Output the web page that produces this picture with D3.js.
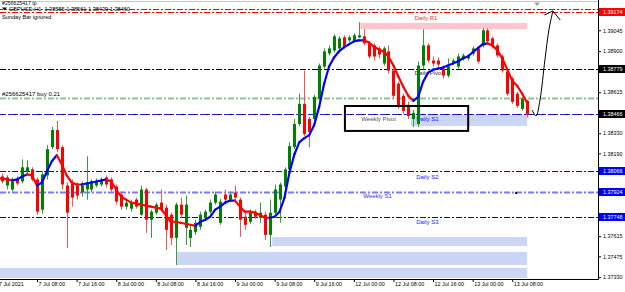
<!DOCTYPE html>
<html>
<head>
<meta charset="utf-8">
<script src="https://cdn.jsdelivr.net/npm/d3@7/dist/d3.min.js"></script>
<style>
  body { margin: 0; background: #fff; }
  svg { display: block; font-family: "Liberation Sans", Arial, sans-serif; }
</style>
</head>
<body>
<svg id="chart" width="625" height="292"></svg>
<script>
// GBPUSD H1, one entry per hourly bar, 7 Jul 00:00 -> 13 Jul 11:00
const symbol = 'GBPUSD,H1';

const open = [
  1.38023, 1.38030, 1.37967, 1.37939, 1.38009, 1.37995, 1.38065, 1.38079, 1.38009, 1.37799,
  1.38037, 1.38233, 1.38352, 1.38233, 1.37967, 1.37981, 1.37967, 1.37918, 1.37939, 1.37939,
  1.37967, 1.37974, 1.38023, 1.38009, 1.37960, 1.37904, 1.37820, 1.37806, 1.37869, 1.37764,
  1.37939, 1.37729, 1.37778, 1.37848, 1.37813, 1.37764, 1.37603, 1.37834, 1.37673, 1.37603,
  1.37645, 1.37680, 1.37743, 1.37785, 1.37848, 1.37708, 1.37904, 1.37869, 1.37918, 1.37869,
  1.37750, 1.37715, 1.37785, 1.37743, 1.37764, 1.37624, 1.37778, 1.37869, 1.37960, 1.38079,
  1.38233, 1.38394, 1.38534, 1.38429, 1.38429, 1.38569, 1.38793, 1.38884, 1.38905, 1.38919,
  1.38996, 1.38975, 1.38975, 1.38996, 1.39003, 1.38954, 1.38940, 1.38919, 1.38814, 1.38898,
  1.38765, 1.38674, 1.38590, 1.38527, 1.38429, 1.38394, 1.38800, 1.38940, 1.38835, 1.38835,
  1.38779, 1.38730, 1.38821, 1.38793, 1.38849, 1.38849, 1.38884, 1.38919, 1.38940, 1.39045,
  1.38989, 1.38940, 1.38863, 1.38758, 1.38709, 1.38604, 1.38499, 1.38555
];
const high = [
  1.38044, 1.38051, 1.38037, 1.38023, 1.38030, 1.38149, 1.38142, 1.38093, 1.38023, 1.38065,
  1.38247, 1.38373, 1.38415, 1.38247, 1.37988, 1.38009, 1.37988, 1.37995, 1.38170, 1.38009,
  1.38016, 1.38023, 1.38037, 1.38023, 1.37974, 1.37925, 1.37862, 1.37869, 1.37883, 1.37967,
  1.37953, 1.37799, 1.37848, 1.37939, 1.37834, 1.37778, 1.37848, 1.37883, 1.37897, 1.37694,
  1.37729, 1.37785, 1.37799, 1.37869, 1.37925, 1.37876, 1.37939, 1.37925, 1.37967, 1.37883,
  1.37785, 1.37799, 1.37799, 1.37848, 1.37785, 1.37869, 1.37974, 1.37988, 1.38093, 1.38268,
  1.38429, 1.38604, 1.38765, 1.38443, 1.38597, 1.38814, 1.38919, 1.38940, 1.39017, 1.39003,
  1.39010, 1.39010, 1.39024, 1.39101, 1.39052, 1.38968, 1.38954, 1.38933, 1.38933, 1.38940,
  1.38779, 1.38688, 1.38604, 1.38548, 1.38492, 1.38828, 1.39052, 1.38954, 1.38863, 1.38856,
  1.38800, 1.38849, 1.38849, 1.38884, 1.38884, 1.38877, 1.38933, 1.38933, 1.39059, 1.39059,
  1.39003, 1.38954, 1.38877, 1.38779, 1.38723, 1.38618, 1.38583, 1.38561
];
const low = [
  1.37988, 1.37981, 1.37939, 1.37925, 1.37967, 1.37981, 1.38044, 1.37995, 1.37764, 1.37771,
  1.38009, 1.38219, 1.38198, 1.37939, 1.37533, 1.37820, 1.37869, 1.37890, 1.37869, 1.37918,
  1.37953, 1.37960, 1.37953, 1.37925, 1.37834, 1.37799, 1.37799, 1.37785, 1.37806, 1.37757,
  1.37638, 1.37603, 1.37764, 1.37785, 1.37519, 1.37554, 1.37414, 1.37743, 1.37554, 1.37540,
  1.37624, 1.37659, 1.37729, 1.37771, 1.37834, 1.37694, 1.37855, 1.37855, 1.37869, 1.37610,
  1.37659, 1.37701, 1.37736, 1.37708, 1.37589, 1.37540, 1.37764, 1.37708, 1.37939, 1.38065,
  1.38219, 1.38380, 1.38310, 1.38233, 1.38415, 1.38555, 1.38779, 1.38870, 1.38891, 1.38905,
  1.38919, 1.38961, 1.38961, 1.38989, 1.38940, 1.38849, 1.38835, 1.38849, 1.38800, 1.38744,
  1.38569, 1.38499, 1.38464, 1.38429, 1.38373, 1.38373, 1.38779, 1.38821, 1.38793, 1.38786,
  1.38709, 1.38716, 1.38807, 1.38779, 1.38835, 1.38835, 1.38870, 1.38814, 1.38926, 1.38954,
  1.38919, 1.38856, 1.38751, 1.38590, 1.38534, 1.38506, 1.38485, 1.38439
];
const close = [
  1.38009, 1.37995, 1.38023, 1.37995, 1.37981, 1.38093, 1.38093, 1.38009, 1.37785, 1.38044,
  1.38219, 1.38352, 1.38219, 1.37974, 1.37778, 1.37883, 1.37897, 1.37967, 1.37988, 1.37995,
  1.37995, 1.38002, 1.37974, 1.37939, 1.37855, 1.37820, 1.37848, 1.37848, 1.37820, 1.37939,
  1.37729, 1.37785, 1.37834, 1.37799, 1.37659, 1.37603, 1.37834, 1.37764, 1.37834, 1.37659,
  1.37708, 1.37764, 1.37785, 1.37848, 1.37904, 1.37855, 1.37869, 1.37904, 1.37883, 1.37729,
  1.37694, 1.37785, 1.37750, 1.37778, 1.37624, 1.37778, 1.37939, 1.37974, 1.38079, 1.38240,
  1.38394, 1.38534, 1.38324, 1.38338, 1.38583, 1.38800, 1.38898, 1.38919, 1.39003, 1.38989,
  1.38933, 1.38996, 1.39010, 1.39010, 1.38954, 1.38863, 1.38863, 1.38877, 1.38919, 1.38765,
  1.38590, 1.38520, 1.38485, 1.38450, 1.38471, 1.38800, 1.38940, 1.38835, 1.38814, 1.38807,
  1.38730, 1.38793, 1.38835, 1.38863, 1.38870, 1.38870, 1.38919, 1.38828, 1.39045, 1.38968,
  1.38933, 1.38870, 1.38765, 1.38604, 1.38548, 1.38520, 1.38569, 1.38460
];
// trend moving average (blue rising, red falling)
const maLine = [
  1.38016, 1.38016, 1.38009, 1.38002, 1.38009, 1.38030, 1.38044, 1.38037, 1.37967, 1.37988,
  1.38065, 1.38135, 1.38177, 1.38114, 1.38037, 1.37988, 1.37974, 1.37974, 1.37981, 1.37988,
  1.37995, 1.38002, 1.38009, 1.37995, 1.37939, 1.37890, 1.37869, 1.37848, 1.37841, 1.37834,
  1.37827, 1.37820, 1.37813, 1.37806, 1.37764, 1.37715, 1.37715, 1.37708, 1.37701, 1.37694,
  1.37687, 1.37715, 1.37729, 1.37750, 1.37799, 1.37820, 1.37848, 1.37862, 1.37862, 1.37820,
  1.37785, 1.37785, 1.37778, 1.37764, 1.37743, 1.37743, 1.37750, 1.37785, 1.37883, 1.38058,
  1.38184, 1.38268, 1.38296, 1.38317, 1.38387, 1.38513, 1.38674, 1.38793, 1.38856, 1.38898,
  1.38926, 1.38947, 1.38968, 1.38975, 1.38975, 1.38961, 1.38933, 1.38912, 1.38898, 1.38863,
  1.38800, 1.38723, 1.38653, 1.38590, 1.38555, 1.38583, 1.38688, 1.38751, 1.38772, 1.38779,
  1.38786, 1.38800, 1.38814, 1.38828, 1.38849, 1.38863, 1.38891, 1.38919, 1.38947, 1.38954,
  1.38940, 1.38905, 1.38849, 1.38772, 1.38695, 1.38660, 1.38604, 1.38541
];

const timeLabels = ['7 Jul 2021', '7 Jul 08:00', '7 Jul 16:00', '8 Jul 00:00', '8 Jul 08:00', '8 Jul 16:00',
  '9 Jul 00:00', '9 Jul 08:00', '9 Jul 16:00', '12 Jul 00:00', '12 Jul 08:00', '12 Jul 16:00',
  '13 Jul 00:00', '13 Jul 08:00'];
const timeBars = [0, 8, 16, 24, 32, 40, 48, 56, 64, 72, 80, 88, 96, 104];
const priceTicks = [1.39045, 1.38900, 1.38760, 1.38615, 1.38470, 1.38330, 1.38190,
  1.38050, 1.37905, 1.37760, 1.37615, 1.37475, 1.37330];

// pivot levels
const levelNames = ['Daily R1', 'Daily Pivot', 'Weekly Pivot', 'Daily S1', 'Daily S2', 'Weekly S1', 'Daily S3'];
const levelPrices = [1.39174, 1.38779, 1.38466, 1.38466, 1.38066, 1.37924, 1.37748];

// open order
const orderTicket = '#256625417';
const orderLots = 0.21;
const orderPrice = 1.38578;
const orderTp = 1.39191;

// zones: first bar, upper price, lower price
const zoneStart = [73.3, 83.5, 55.5, 36.3, -1];
const zoneTop = [1.39096, 1.38457, 1.37609, 1.37505, 1.37394];
const zoneBottom = [1.39052, 1.38380, 1.37547, 1.37415, 1.37325];

// hand drawn objects
const boxBars = [70.2, 95.1];
const boxPrices = [1.38519, 1.38346];
const arrowBars = [108.0, 108.8, 109.6, 110.6, 111.4, 112.2];
const arrowPrices = [1.38491, 1.38450, 1.38561, 1.38839, 1.39047, 1.39179];
const arrowHeadBars = [110.5, 112.2, 113.7];
const arrowHeadPrices = [1.39151, 1.39179, 1.39116];
const markBar = 104.8;
const markPrice = 1.37915;

const svg = d3.select('#chart');
const plotW = 598, plotH = 279;
const lastBar = open.length - 1;

const x = d3.scaleLinear().domain([0, 107]).range([-2.6, 527.1]);
const y = d3.scaleLinear().domain([1.39174, 1.37330]).range([11.7, 277.2]);

svg.append('defs').append('clipPath').attr('id', 'plot')
  .append('rect').attr('width', plotW).attr('height', plotH);
const plot = svg.append('g').attr('clip-path', 'url(#plot)');

// top frame line and chart shift mark
plot.append('line').attr('x1', 0).attr('x2', plotW).attr('y1', 1.5).attr('y2', 1.5)
  .attr('stroke', '#c8c8c8');
svg.append('path').attr('d', 'M534,2.5L540,2.5L537,6Z').attr('fill', '#a0a0a0');

// zones
plot.selectAll('rect.zone').data(zoneTop).enter().append('rect')
  .attr('class', 'zone')
  .attr('x', (d, i) => Math.max(0, x(zoneStart[i])))
  .attr('y', d => y(d))
  .attr('width', (d, i) => x(lastBar) - Math.max(0, x(zoneStart[i])))
  .attr('height', (d, i) => y(zoneBottom[i]) - y(d))
  .attr('fill', (d, i) => i === 0 ? '#ffc6d0' : '#cbd5f4');

// horizontal levels
const dash = '6,2,2,2';
const levelStyle = {
  'Daily R1':     { color: '#ff0000', width: 1, text: '#ff3030', bar: 84.3, dy: 8 },
  'Daily Pivot':  { color: '#000000', width: 1, text: '#303030', bar: 84.3, dy: 6 },
  'Weekly Pivot': { color: '#000000', width: 1.2, text: '#505050', bar: 73.5, dy: 7 },
  'Daily S1':     { color: '#2020ff', width: 1.2, text: '#2020ff', bar: 84.6, dy: 7.5 },
  'Daily S2':     { color: '#0000ff', width: 1, text: '#2020ff', bar: 84.6, dy: 7.5 },
  'Weekly S1':    { color: '#7a7aff', width: 2, text: '#3030ff', bar: 73.9, dy: 6.5 },
  'Daily S3':     { color: '#0000ff', width: 1, text: '#2020ff', bar: 84.6, dy: 7 }
};
function hline(price, color, width, offset) {
  const yy = Math.round(y(price)) + 0.5;
  plot.append('line').attr('x1', 0).attr('x2', plotW).attr('y1', yy).attr('y2', yy)
    .attr('stroke', color).attr('stroke-width', width)
    .attr('stroke-dasharray', dash).attr('stroke-dashoffset', offset || 0);
}
hline(orderTp, '#ff0000', 1, 3);
hline(orderPrice, '#8cc88c', 2);
levelNames.forEach((name, i) => {
  const s = levelStyle[name];
  hline(levelPrices[i], s.color, s.width, name === 'Daily S1' ? 4 : 0);
});

// level captions
plot.selectAll('text.level').data(levelNames).enter().append('text')
  .attr('class', 'level')
  .attr('x', d => x(levelStyle[d].bar))
  .attr('y', (d, i) => y(levelPrices[i]) + levelStyle[d].dy)
  .attr('font-size', 6)
  .attr('fill', d => levelStyle[d].text)
  .text(d => d);

plot.append('text').attr('x', 2).attr('y', y(orderPrice) - 1.5).attr('font-size', 6)
  .attr('fill', '#000').text(`${orderTicket} buy ${orderLots}`);
plot.append('text').attr('x', 2).attr('y', y(orderTp) - 3.8).attr('font-size', 5.2)
  .attr('fill', '#000').text(`${orderTicket} tp`);

// candles
const bars = d3.range(open.length);
const cx = i => Math.round(x(i));
const up = i => close[i] >= open[i];
plot.selectAll('line.wick').data(bars).enter().append('line')
  .attr('class', 'wick')
  .attr('x1', i => cx(i) + 0.5).attr('x2', i => cx(i) + 0.5)
  .attr('y1', i => y(high[i])).attr('y2', i => y(low[i]))
  .attr('stroke', i => up(i) ? '#3c9a3c' : '#ff5050');
plot.selectAll('rect.body').data(bars).enter().append('rect')
  .attr('class', 'body')
  .attr('x', i => cx(i) - 1).attr('width', 3)
  .attr('y', i => y(Math.max(open[i], close[i])))
  .attr('height', i => Math.max(1, Math.abs(y(open[i]) - y(close[i]))))
  .attr('fill', i => up(i) ? '#008000' : '#ff0000');

// coloured moving average
const segs = [];
let prevColor = '#ff0000';
for (let i = 1; i < maLine.length; i++) {
  const c = maLine[i] > maLine[i - 1] ? '#0000ff' : maLine[i] < maLine[i - 1] ? '#ff0000' : prevColor;
  prevColor = c;
  segs.push({ i, c });
}
const maPath = d3.line().x(i => x(i)).y(i => y(maLine[i]));
plot.selectAll('path.ma').data(segs).enter().append('path')
  .attr('class', 'ma')
  .attr('d', s => maPath([s.i - 1, s.i]))
  .attr('fill', 'none').attr('stroke', s => s.c)
  .attr('stroke-width', 2.2).attr('stroke-linecap', 'round');

// rectangle around the pivots
plot.append('rect')
  .attr('x', x(boxBars[0])).attr('y', y(boxPrices[0]))
  .attr('width', x(boxBars[1]) - x(boxBars[0]))
  .attr('height', y(boxPrices[1]) - y(boxPrices[0]))
  .attr('fill', 'none').attr('stroke', '#000').attr('stroke-width', 2);

// hand drawn arrow
plot.append('path')
  .attr('d', d3.line().curve(d3.curveCatmullRom)
    .x(i => x(arrowBars[i])).y(i => y(arrowPrices[i]))(d3.range(arrowBars.length)))
  .attr('fill', 'none').attr('stroke', '#000').attr('stroke-width', 1);
plot.append('path')
  .attr('d', d3.line().x(i => x(arrowHeadBars[i])).y(i => y(arrowHeadPrices[i]))(d3.range(3)))
  .attr('fill', 'none').attr('stroke', '#000').attr('stroke-width', 1);
plot.append('rect').attr('x', x(markBar) - 1).attr('y', y(markPrice) - 1)
  .attr('width', 2).attr('height', 2).attr('fill', '#000');

// price boxes on the axis
const boxColor = { 'Daily R1': '#ff0000', 'Daily Pivot': '#000000', 'Weekly Pivot': '#000000',
  'Daily S2': '#0000ff', 'Weekly S1': '#0000ff', 'Daily S3': '#0000ff' };
const tagged = levelNames.map((n, i) => ({ n, p: levelPrices[i] })).filter(d => boxColor[d.n]);

// axes (grid labels hidden behind a price box are left out)
const covered = p => tagged.some(d => Math.abs(y(d.p) - y(p)) < 7);
const yAxis = svg.append('g').attr('transform', `translate(${plotW},0)`)
  .call(d3.axisRight(y).tickValues(priceTicks)
    .tickFormat(p => covered(p) ? '' : d3.format('.5f')(p)).tickSize(3).tickPadding(2));
yAxis.select('.domain').remove();
yAxis.attr('font-family', null).attr('font-size', 5.4);
yAxis.selectAll('text').attr('fill', '#000');

const xAxis = svg.append('g').attr('transform', `translate(0,${plotH})`)
  .call(d3.axisBottom(x).tickValues(timeBars).tickFormat((d, i) => timeLabels[i]).tickSize(3));
xAxis.select('.domain').remove();
xAxis.attr('font-family', null).attr('font-size', 5.4);
xAxis.selectAll('text').attr('text-anchor', 'start').attr('x', 1).attr('y', 3.5).attr('fill', '#000');

svg.append('line').attr('x1', plotW + 0.5).attr('x2', plotW + 0.5).attr('y1', 0).attr('y2', plotH + 0.5)
  .attr('stroke', '#000');
svg.append('line').attr('x1', 0).attr('x2', plotW + 0.5).attr('y1', plotH + 0.5).attr('y2', plotH + 0.5)
  .attr('stroke', '#000');

const tags = svg.selectAll('g.tag').data(tagged).enter().append('g')
  .attr('class', 'tag')
  .attr('transform', d => `translate(${plotW + 1},${Math.round(y(d.p))})`);
tags.append('rect').attr('x', 0).attr('y', -4).attr('width', 27).attr('height', 8)
  .attr('fill', d => boxColor[d.n]);
tags.append('text').attr('x', 4).attr('y', 2).attr('font-size', 5.4).attr('fill', '#fff')
  .text(d => d3.format('.5f')(d.p));

// header
const f5 = d3.format('.5f');
svg.append('path').attr('d', 'M2,7.5L7,7.5L4.5,10.5Z').attr('fill', '#000');
svg.append('text').attr('x', 9).attr('y', 11.2).attr('font-size', 5.6).attr('fill', '#000')
  .attr('xml:space', 'preserve')
  .text(`${symbol}  ${f5(open[lastBar])} ${f5(high[lastBar])} ${f5(low[lastBar])} ${f5(close[lastBar])}`);
svg.append('text').attr('x', 2).attr('y', 18.5).attr('font-size', 5.6).attr('fill', '#000')
  .text('Sunday Bar ignored');
</script>
</body>
</html>
